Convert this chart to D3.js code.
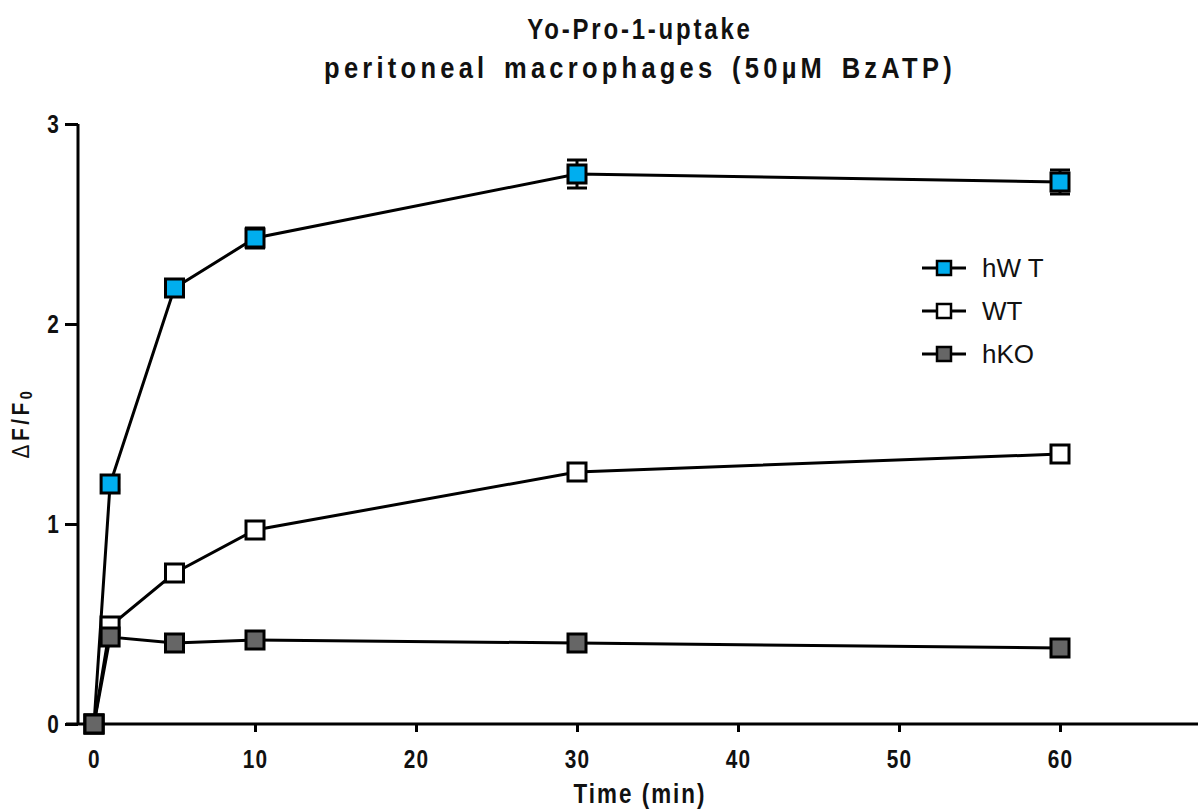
<!DOCTYPE html>
<html>
<head>
<meta charset="utf-8" />
<title>Yo-Pro-1 uptake</title>
<script src="https://d3js.org/d3.v7.min.js"></script>
<style>
	body, html { margin: 0; background: #fff; }
	svg text { fill: #111; }
</style>
</head>
<body>
<svg id="chart" width="1198" height="809"></svg>
<script>
	// time points (min)
	var times = [0, 1, 5, 10, 30, 60];
	var seriesNames = ["hW T", "WT", "hKO"];
	var seriesColors = ["#00aeef", "#ffffff", "#666666"];
	var hWT = [0, 1.20, 2.18, 2.43, 2.75, 2.71];
	var hWTerr = [0, 0.03, 0.04, 0.05, 0.07, 0.06];
	var WT = [0, 0.49, 0.755, 0.97, 1.26, 1.35];
	var WTerr = [0, 0.01, 0.01, 0.01, 0.01, 0.01];
	var hKO = [0, 0.435, 0.405, 0.42, 0.405, 0.38];
	var hKOerr = [0, 0.01, 0.01, 0.01, 0.01, 0.01];
	var xTicks = [0, 10, 20, 30, 40, 50, 60];
	var yTicks = [0, 1, 2, 3];

	var values = [hWT, WT, hKO];
	var errs = [hWTerr, WTerr, hKOerr];
	var tf = "Liberation Sans, Arial, sans-serif";

	var svg = d3.select("#chart");
	var x = d3.scaleLinear().domain([0, 60]).range([94, 1060]);
	var y = d3.scaleLinear().domain([0, 3]).range([724, 124]);

	// no condensed font installed, so squeeze text horizontally around its x
	function condense(k) {
		return function (sel) {
			sel.each(function () {
				var t = d3.select(this);
				var x0 = +t.attr("x") || 0;
				t.attr("x", x0 / k).attr("transform", "scale(" + k + ",1)");
			});
		};
	}
	function tickFont(sel) {
		sel.style("font-family", tf).style("font-weight", "bold")
			.style("font-size", "26px").style("letter-spacing", "1.5px");
	}

	// x axis, runs past the plot to the right edge
	svg.append("line")
		.attr("x1", 66).attr("x2", 1198)
		.attr("y1", y(0)).attr("y2", y(0))
		.attr("stroke", "#000").attr("stroke-width", 3);
	var gx = svg.append("g").attr("transform", "translate(0," + y(0) + ")")
		.call(d3.axisBottom(x).tickValues(xTicks).tickSize(8).tickPadding(18).tickFormat(d3.format("d")));
	gx.select(".domain").remove();
	gx.selectAll(".tick line").attr("stroke", "#000").attr("stroke-width", 3);
	gx.selectAll(".tick text").call(tickFont).call(condense(0.8));

	var gy = svg.append("g").attr("transform", "translate(78,0)")
		.call(d3.axisLeft(y).tickValues(yTicks).tickSize(13).tickPadding(5).tickFormat(d3.format("d")));
	gy.select(".domain").attr("d", "M0," + y(3) + "V" + y(0)).attr("stroke", "#000").attr("stroke-width", 3);
	gy.selectAll(".tick line").attr("stroke", "#000").attr("stroke-width", 3);
	gy.selectAll(".tick text").call(tickFont).call(condense(0.8));

	var line = d3.line().x(function (d) { return x(d[0]); }).y(function (d) { return y(d[1]); });
	var ms = 18;

	values.forEach(function (vals, s) {
		var pts = times.map(function (t, i) { return [t, vals[i], errs[s][i]]; });
		var g = svg.append("g");
		g.append("path").datum(pts).attr("d", line)
			.attr("fill", "none").attr("stroke", "#000").attr("stroke-width", 3);
		// error bars
		pts.forEach(function (p) {
			if (p[2] <= 0.02) return;
			var cx = x(p[0]);
			[p[1] + p[2], p[1] - p[2]].forEach(function (v) {
				g.append("line").attr("x1", cx).attr("x2", cx).attr("y1", y(p[1])).attr("y2", y(v))
					.attr("stroke", "#000").attr("stroke-width", 3);
				g.append("line").attr("x1", cx - 10).attr("x2", cx + 10).attr("y1", y(v)).attr("y2", y(v))
					.attr("stroke", "#000").attr("stroke-width", 3);
			});
		});
		g.selectAll("rect").data(pts).enter().append("rect")
			.attr("x", function (d) { return x(d[0]) - ms / 2; })
			.attr("y", function (d) { return y(d[1]) - ms / 2; })
			.attr("width", ms).attr("height", ms)
			.attr("fill", seriesColors[s]).attr("stroke", "#000").attr("stroke-width", 3);
	});

	// legend
	var leg = svg.append("g").attr("transform", "translate(922,268)");
	seriesNames.forEach(function (n, i) {
		var row = leg.append("g").attr("transform", "translate(0," + i * 43 + ")");
		row.append("line").attr("x1", 0).attr("x2", 44).attr("y1", 0).attr("y2", 0)
			.attr("stroke", "#000").attr("stroke-width", 3);
		row.append("rect").attr("x", 22 - 7).attr("y", -7).attr("width", 14).attr("height", 14)
			.attr("fill", seriesColors[i]).attr("stroke", "#000").attr("stroke-width", 2.5);
		row.append("text").attr("x", 60).attr("y", 9)
			.style("font-family", tf).style("font-size", "26px")
			.text(n);
	});

	// titles
	svg.append("text").attr("x", 640).attr("y", 39).attr("text-anchor", "middle")
		.style("font-family", tf).style("font-weight", "bold").style("font-size", "30px").style("letter-spacing", "3.5px")
		.text("Yo-Pro-1-uptake").call(condense(0.8));
	svg.append("text").attr("x", 640).attr("y", 78).attr("text-anchor", "middle")
		.style("font-family", tf).style("font-weight", "bold").style("font-size", "30px")
		.style("letter-spacing", "5px").style("word-spacing", "5px")
		.text("peritoneal macrophages (50µM BzATP)").call(condense(0.85));
	svg.append("text").attr("x", 640).attr("y", 803).attr("text-anchor", "middle")
		.style("font-family", tf).style("font-weight", "bold").style("font-size", "28px").style("letter-spacing", "2.5px")
		.text("Time (min)").call(condense(0.8));
	var yl = svg.append("text").attr("transform", "translate(29,423) rotate(-90) scale(0.9,1)").attr("text-anchor", "middle")
		.style("font-family", tf).style("font-weight", "bold").style("font-size", "23px").style("letter-spacing", "4px");
	yl.append("tspan").style("font-weight", "normal").text("Δ");
	yl.append("tspan").text("F/F");
	yl.append("tspan").attr("dy", 3).style("font-size", "16px").text("0");
</script>
</body>
</html>
